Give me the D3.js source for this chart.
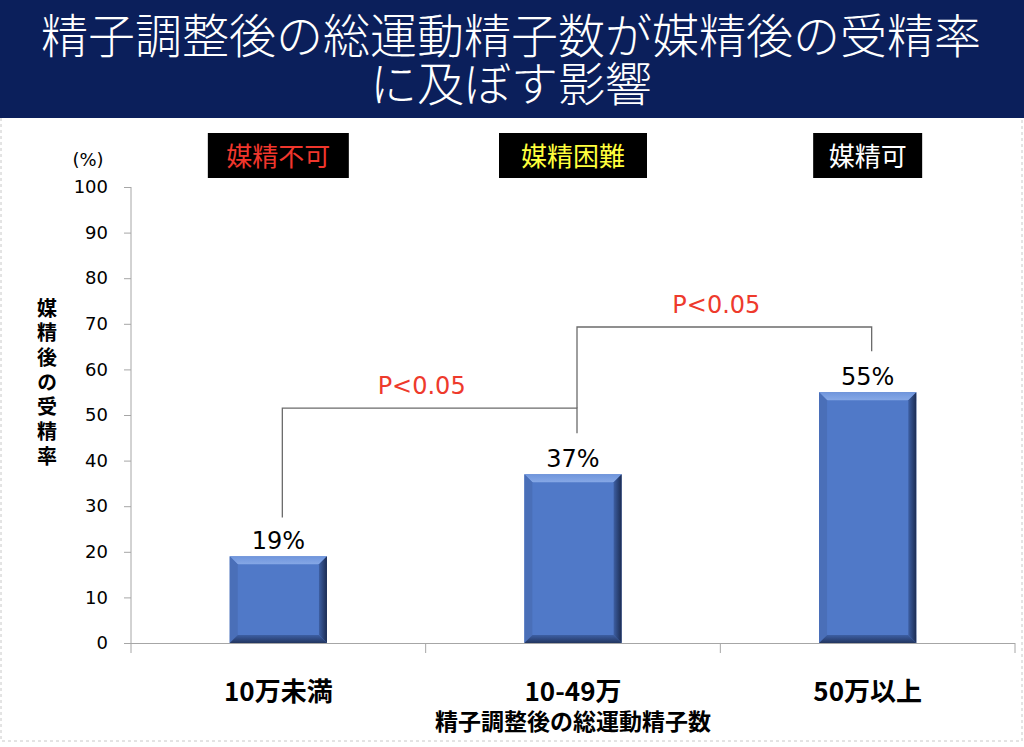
<!DOCTYPE html>
<html>
<head>
<meta charset="utf-8">
<script src="https://cdn.jsdelivr.net/npm/d3@7"></script>
<style>
  body { margin: 0; background: #fff; }
  svg { display: block; }
</style>
</head>
<body>
<div id="chart"></div>
<script>
// data
var categories = ["10万未満", "10-49万", "50万以上"];
var rates = [19, 37, 55];
var rateLabels = ["19%", "37%", "55%"];
var groupLabels = ["媒精不可", "媒精困難", "媒精可"];
var groupColors = ["#f0362c", "#ffff3c", "#ffffff"];
var yTicks = [0, 10, 20, 30, 40, 50, 60, 70, 80, 90, 100];
var titleLines = ["精子調整後の総運動精子数が媒精後の受精率", "に及ぼす影響"];
var yTitle = "媒精後の受精率";
var xTitle = "精子調整後の総運動精子数";
// significance brackets: from/to category index, bracket height and drop ends (in %)
var brackets = [
    { from: 0, to: 1, top: 51.5, ends: [27.5, 46], label: "P<0.05" },
    { from: 1, to: 2, top: 69.3, ends: [51.5, 64], label: "P<0.05" }
];

var w = 1024, h = 747;
var plotLeft = 131, plotRight = 1015, plotTop = 187, plotBottom = 643;
var jp = "'Noto Sans CJK JP', sans-serif";
var num = "'DejaVu Sans', Verdana, sans-serif";

var svg = d3.select("#chart").append("svg")
    .attr("width", w)
    .attr("height", h);

var defs = svg.append("defs");
var gr = defs.append("linearGradient").attr("id", "rightEdge")
    .attr("x1", 0).attr("x2", 1).attr("y1", 0).attr("y2", 0);
gr.append("stop").attr("offset", "0%").attr("stop-color", "#3d5fa3");
gr.append("stop").attr("offset", "100%").attr("stop-color", "#1c2c52");
var gb = defs.append("linearGradient").attr("id", "bottomEdge")
    .attr("x1", 0).attr("x2", 0).attr("y1", 0).attr("y2", 1);
gb.append("stop").attr("offset", "0%").attr("stop-color", "#3d5fa3");
gb.append("stop").attr("offset", "100%").attr("stop-color", "#22355f");
var gt = defs.append("linearGradient").attr("id", "topEdge")
    .attr("x1", 0).attr("x2", 0).attr("y1", 0).attr("y2", 1);
gt.append("stop").attr("offset", "0%").attr("stop-color", "#6f95dc");
gt.append("stop").attr("offset", "100%").attr("stop-color", "#86a8e6");

// dashed frame
svg.append("path")
    .attr("d", "M1,118 V741 H1022 V118")
    .attr("fill", "none")
    .attr("stroke", "#c8c8c8")
    .attr("stroke-dasharray", "3,3");

// title banner
svg.append("rect")
    .attr("x", 0).attr("y", 0)
    .attr("width", w).attr("height", 118)
    .attr("fill", "#0b1f5b");
var title = svg.append("text")
    .attr("y", 53)
    .attr("text-anchor", "middle")
    .attr("fill", "#fff")
    .style("font-family", jp)
    .style("font-weight", 300)
    .style("font-size", "47px");
title.selectAll("tspan")
    .data(titleLines)
    .enter().append("tspan")
    .attr("x", 511)
    .attr("dy", function (d, i) { return i == 0 ? 0 : 48; })
    .text(function (d) { return d; });

var xScale = d3.scaleBand()
    .domain(categories)
    .range([plotLeft, plotRight]);

var yScale = d3.scaleLinear()
    .domain([0, 100])
    .range([plotBottom, plotTop]);

// group label boxes
var boxW = [141, 148, 109];
svg.selectAll(".gbox")
    .data(groupLabels)
    .enter().append("rect")
    .attr("class", "gbox")
    .attr("x", function (d, i) { return xScale(categories[i]) + xScale.bandwidth() / 2 - boxW[i] / 2; })
    .attr("y", 133)
    .attr("width", function (d, i) { return boxW[i]; })
    .attr("height", 45)
    .attr("fill", "#000");
svg.selectAll(".glabel")
    .data(groupLabels)
    .enter().append("text")
    .attr("class", "glabel")
    .attr("x", function (d, i) { return xScale(categories[i]) + xScale.bandwidth() / 2; })
    .attr("y", 166)
    .attr("text-anchor", "middle")
    .attr("fill", function (d, i) { return groupColors[i]; })
    .style("font-family", jp)
    .style("font-size", "26px")
    .text(function (d) { return d; });

// y axis
var yAxis = d3.axisLeft(yScale)
    .tickValues(yTicks)
    .tickSize(7)
    .tickPadding(16)
    .tickSizeOuter(0);
var gy = svg.append("g")
    .attr("transform", "translate(" + plotLeft + ",0)")
    .call(yAxis);
gy.select(".domain").remove();
gy.selectAll("line").attr("stroke", "#a6a6a6");
gy.selectAll("text")
    .attr("fill", "#000")
    .style("font-family", num)
    .style("font-size", "18px");
gy.append("line")
    .attr("x1", 0).attr("x2", 0)
    .attr("y1", plotTop).attr("y2", plotBottom + 10)
    .attr("stroke", "#a6a6a6");

svg.append("text")
    .attr("x", 88).attr("y", 166)
    .attr("text-anchor", "middle")
    .attr("fill", "#000")
    .style("font-family", num)
    .style("font-size", "18px")
    .text("(%)");

// x axis
var xAxis = d3.axisBottom(xScale).tickSize(0).tickFormat("");
var gx = svg.append("g")
    .attr("transform", "translate(0," + plotBottom + ")")
    .call(xAxis);
gx.select(".domain").attr("stroke", "#a6a6a6").attr("d", "M" + plotLeft + ",0.5H" + plotRight);
gx.selectAll(".bound")
    .data(categories)
    .enter().append("line")
    .attr("class", "bound")
    .attr("x1", function (d) { return xScale(d) + xScale.step(); })
    .attr("x2", function (d) { return xScale(d) + xScale.step(); })
    .attr("y1", 0).attr("y2", 10)
    .attr("stroke", "#a6a6a6");

svg.selectAll(".xlabel")
    .data(categories)
    .enter().append("text")
    .attr("class", "xlabel")
    .attr("x", function (d) { return xScale(d) + xScale.bandwidth() / 2; })
    .attr("y", 701)
    .attr("text-anchor", "middle")
    .attr("fill", "#000")
    .style("font-family", jp)
    .style("font-weight", "bold")
    .style("font-size", "26px")
    .text(function (d) { return d; });

svg.append("text")
    .attr("x", xScale(categories[1]) + xScale.bandwidth() / 2)
    .attr("y", 730)
    .attr("text-anchor", "middle")
    .attr("fill", "#000")
    .style("font-family", jp)
    .style("font-weight", "bold")
    .style("font-size", "23px")
    .text(xTitle);

// y title, stacked vertically
svg.append("text")
    .attr("x", 47)
    .attr("y", 298)
    .attr("fill", "#000")
    .style("writing-mode", "vertical-rl")
    .style("text-orientation", "upright")
    .style("letter-spacing", "4.7px")
    .style("font-family", jp)
    .style("font-weight", "bold")
    .style("font-size", "20px")
    .text(yTitle);

// bars with bevel
var barW = xScale.bandwidth() * 0.33;
var bv = 8;
var bars = svg.selectAll(".bar")
    .data(rates)
    .enter().append("g")
    .attr("class", "bar");

function barGeom(d, i) {
    var x0 = xScale(categories[i]) + xScale.bandwidth() / 2 - barW / 2;
    return { x0: x0, x1: x0 + barW, y0: yScale(d), y1: yScale(0) };
}
bars.append("rect")
    .attr("x", function (d, i) { return barGeom(d, i).x0; })
    .attr("y", function (d, i) { return barGeom(d, i).y0; })
    .attr("width", barW)
    .attr("height", function (d, i) { var g = barGeom(d, i); return g.y1 - g.y0; })
    .attr("fill", "#5079c8");
// top bevel
bars.append("polygon")
    .attr("points", function (d, i) {
        var g = barGeom(d, i);
        return [[g.x0, g.y0], [g.x1, g.y0], [g.x1 - bv, g.y0 + bv], [g.x0 + bv, g.y0 + bv]].join(" ");
    })
    .attr("fill", "url(#topEdge)");
// left bevel
bars.append("polygon")
    .attr("points", function (d, i) {
        var g = barGeom(d, i);
        return [[g.x0, g.y0], [g.x0 + bv, g.y0 + bv], [g.x0 + bv, g.y1 - bv], [g.x0, g.y1]].join(" ");
    })
    .attr("fill", "#4a6fb8");
// right bevel
bars.append("polygon")
    .attr("points", function (d, i) {
        var g = barGeom(d, i);
        return [[g.x1, g.y0], [g.x1, g.y1], [g.x1 - bv, g.y1 - bv], [g.x1 - bv, g.y0 + bv]].join(" ");
    })
    .attr("fill", "url(#rightEdge)");
// bottom bevel
bars.append("polygon")
    .attr("points", function (d, i) {
        var g = barGeom(d, i);
        return [[g.x0, g.y1], [g.x0 + bv, g.y1 - bv], [g.x1 - bv, g.y1 - bv], [g.x1, g.y1]].join(" ");
    })
    .attr("fill", "url(#bottomEdge)");

svg.selectAll(".vlabel")
    .data(rates)
    .enter().append("text")
    .attr("class", "vlabel")
    .attr("x", function (d, i) { return xScale(categories[i]) + xScale.bandwidth() / 2; })
    .attr("y", function (d) { return yScale(d) - 7; })
    .attr("text-anchor", "middle")
    .attr("fill", "#000")
    .style("font-family", num)
    .style("font-size", "24px")
    .text(function (d, i) { return rateLabels[i]; });

// significance brackets
function cx(i, off) { return xScale(categories[i]) + xScale.bandwidth() / 2 + off; }
svg.selectAll(".bracket")
    .data(brackets)
    .enter().append("path")
    .attr("class", "bracket")
    .attr("d", function (b) {
        var xa = cx(b.from, 4), xb = cx(b.to, 4);
        return "M" + xa + "," + yScale(b.ends[0]) +
            "V" + yScale(b.top) + "H" + xb + "V" + yScale(b.ends[1]);
    })
    .attr("fill", "none")
    .attr("stroke", "#6b6b6b")
    .attr("stroke-width", 1.3);
svg.selectAll(".plabel")
    .data(brackets)
    .enter().append("text")
    .attr("class", "plabel")
    .attr("x", function (b) { return (cx(b.from, 4) + cx(b.to, 4)) / 2 - 8; })
    .attr("y", function (b) { return yScale(b.top) - 14; })
    .attr("text-anchor", "middle")
    .attr("fill", "#ee3a2c")
    .style("font-family", num)
    .style("font-size", "24px")
    .text(function (b) { return b.label; });
</script>
</body>
</html>
